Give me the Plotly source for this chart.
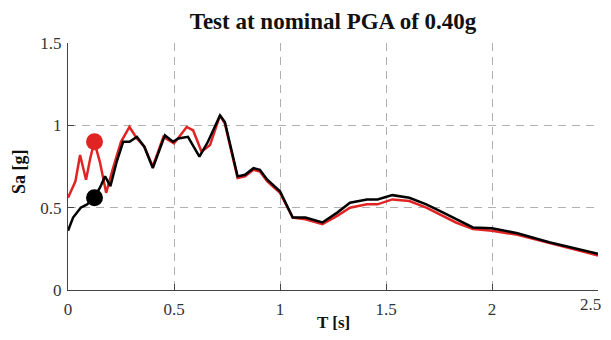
import plotly.graph_objects as go

T_red = [0.0, 0.01, 0.035, 0.057, 0.085, 0.105, 0.124, 0.15, 0.18, 0.21, 0.25, 0.29, 0.325, 0.36, 0.40, 0.45, 0.50, 0.53, 0.56, 0.59, 0.63, 0.67, 0.717, 0.74, 0.80, 0.835, 0.875, 0.905, 0.94, 1.0, 1.06, 1.12, 1.2, 1.27, 1.33, 1.41, 1.46, 1.53, 1.61, 1.69, 1.77, 1.83, 1.91, 2.0, 2.12, 2.27, 2.5]
Sa_red = [0.56, 0.59, 0.66, 0.82, 0.67, 0.80, 0.90, 0.78, 0.59, 0.73, 0.90, 0.99, 0.92, 0.87, 0.75, 0.93, 0.89, 0.94, 0.99, 0.97, 0.84, 0.88, 1.06, 1.01, 0.68, 0.69, 0.73, 0.72, 0.66, 0.59, 0.44, 0.43, 0.40, 0.45, 0.50, 0.52, 0.52, 0.55, 0.54, 0.50, 0.45, 0.41, 0.37, 0.36, 0.335, 0.285, 0.21]

T_blk = [0.0, 0.024, 0.06, 0.09, 0.123, 0.15, 0.175, 0.2, 0.23, 0.26, 0.29, 0.325, 0.36, 0.40, 0.457, 0.495, 0.52, 0.566, 0.62, 0.66, 0.717, 0.74, 0.80, 0.835, 0.875, 0.905, 0.94, 1.0, 1.06, 1.12, 1.2, 1.27, 1.33, 1.41, 1.46, 1.53, 1.61, 1.69, 1.77, 1.83, 1.91, 2.0, 2.12, 2.27, 2.5]
Sa_blk = [0.36, 0.44, 0.50, 0.52, 0.56, 0.62, 0.69, 0.63, 0.78, 0.90, 0.90, 0.93, 0.87, 0.74, 0.94, 0.90, 0.92, 0.93, 0.81, 0.90, 1.06, 1.02, 0.69, 0.70, 0.74, 0.73, 0.67, 0.60, 0.44, 0.44, 0.41, 0.47, 0.53, 0.55, 0.55, 0.576, 0.56, 0.52, 0.47, 0.43, 0.38, 0.375, 0.345, 0.29, 0.22]

mark_T = [0.125]
mark_red = [0.90]
mark_blk = [0.56]

x_ticks = [0, 0.5, 1, 1.5, 2, 2.5]
x_labels = ["0", "0.5", "1", "1.5", "2", "2.5"]
y_ticks = [0, 0.5, 1, 1.5]
y_labels = ["0", "0.5", "1", "1.5"]

RED = "#e02424"
font = "Liberation Serif, Times New Roman, serif"

# page body has an 8px margin on every side; keep the figure inside the visible box
OFF = 8
W, H = 611 - 2 * OFF, 340 - 2 * OFF
L, TOP = 68 - OFF, 43 - OFF
R = W - (598 - OFF)
B = H - (290 - OFF)
PW, PH = W - L - R, H - TOP - B

fig = go.Figure()
fig.add_trace(go.Scatter(x=T_red, y=Sa_red, mode="lines", line=dict(color=RED, width=2.5), showlegend=False))
fig.add_trace(go.Scatter(x=T_blk, y=Sa_blk, mode="lines", line=dict(color="black", width=2.5), showlegend=False))
fig.add_trace(go.Scatter(x=mark_T, y=mark_red, mode="markers", marker=dict(color=RED, size=17), showlegend=False))
fig.add_trace(go.Scatter(x=mark_T, y=mark_blk, mode="markers", marker=dict(color="black", size=17), showlegend=False))

tickfont = dict(family=font, size=17, color="#333")
grid = dict(showgrid=True, gridcolor="#b0b0b0", griddash="8px,6px", gridwidth=1, zeroline=False,
            showline=True, linecolor="#444", linewidth=1.3, ticks="inside", ticklen=6, tickcolor="#444",
            automargin=False, tickfont=tickfont)

# last x tick label is placed as an annotation so it stays inside the window
x_text = x_labels[:-1] + [""]

fig.update_layout(
    width=W, height=H,
    margin=dict(l=L, r=R, t=TOP, b=B),
    paper_bgcolor="white", plot_bgcolor="white",
    title=dict(text="<b>Test at nominal PGA of 0.40g</b>", x=(333 - OFF) / W, xanchor="center",
               y=1 - (21 - OFF) / H, yanchor="middle", font=dict(family=font, size=23, color="#111")),
    xaxis=dict(range=[0, 2.5], tickvals=x_ticks, ticktext=x_text, ticklabelstandoff=3, **grid),
    yaxis=dict(range=[0, 1.5], tickvals=y_ticks, ticktext=y_labels, ticklabelstandoff=2, **grid),
    annotations=[
        dict(text=x_labels[-1], xref="x", yref="paper", x=x_ticks[-1], y=0, xanchor="right", yanchor="top",
             xshift=R, yshift=-3, showarrow=False, font=tickfont),
        dict(text="<b>T [s]</b>", xref="paper", yref="paper", x=(333 - 68) / PW, y=-(322 - 290) / PH,
             xanchor="center", yanchor="middle", showarrow=False, font=dict(family=font, size=17, color="#111")),
        dict(text="<b>Sa [g]</b>", xref="paper", yref="paper", x=-(68 - 19) / PW, y=(290 - 172) / PH,
             xanchor="center", yanchor="middle", textangle=-90, showarrow=False,
             font=dict(family=font, size=18, color="#111")),
    ],
)
fig.write_html("out.html")
